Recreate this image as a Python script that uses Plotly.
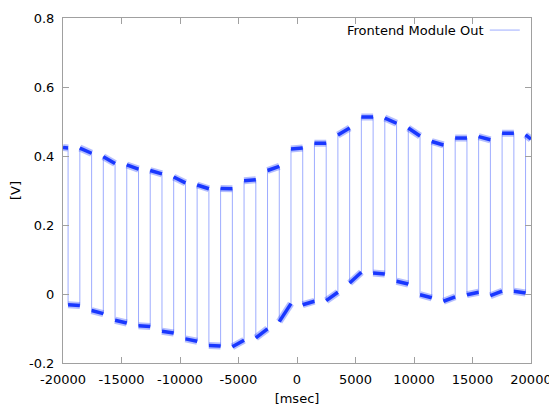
import plotly.graph_objects as go

# segment boundaries [msec] (alternating high / low plateaus)
seg_start = [-20000, -19565, -18560, -17555, -16555, -15550, -14550, -13545, -12545, -11540,
             -10540, -9535, -8535, -7530, -6530, -5525, -4525, -3520, -2520, -1515,
             -515, 490, 1490, 2495, 3495, 4500, 5500, 6505, 7505, 8510,
             9510, 10515, 11515, 12520, 13520, 14525, 15525, 16530, 17530, 18535, 19535]
x_end = 20000

# level at start / end of each segment [V]
lvl_start = [0.425, -0.031, 0.423, -0.048, 0.398, -0.076, 0.374, -0.092, 0.358, -0.108,
             0.339, -0.130, 0.316, -0.149, 0.306, -0.153, 0.328, -0.127, 0.358, -0.080,
             0.420, -0.031, 0.437, -0.019, 0.461, 0.032, 0.513, 0.061, 0.510, 0.037,
             0.481, -0.002, 0.442, -0.021, 0.452, -0.002, 0.456, -0.005, 0.466, 0.008, 0.461]
lvl_end = [0.423, -0.033, 0.408, -0.057, 0.378, -0.084, 0.362, -0.094, 0.348, -0.113,
           0.322, -0.137, 0.305, -0.151, 0.305, -0.134, 0.331, -0.101, 0.370, -0.028,
           0.423, -0.021, 0.437, 0.005, 0.481, 0.063, 0.513, 0.058, 0.495, 0.029,
           0.458, -0.011, 0.432, -0.008, 0.452, 0.005, 0.447, 0.008, 0.466, 0.003, 0.449]

x_ticks = [-20000, -15000, -10000, -5000, 0, 5000, 10000, 15000, 20000]
x_ticktext = ["-20000", "-15000", "-10000", "-5000", "0", "5000", "10000", "15000", "20000"]
y_ticks = [-0.2, 0, 0.2, 0.4, 0.6, 0.8]
y_ticktext = ["-0.2", "0", "0.2", "0.4", "0.6", "0.8"]

seg_end = seg_start[1:] + [x_end]

# continuous signal (with vertical transitions)
xs, ys = [], []
for s, e, a, b in zip(seg_start, seg_end, lvl_start, lvl_end):
    xs += [s, e]
    ys += [a, b]

# dense noisy plateaus
px, py = [], []
for s, e, a, b in zip(seg_start, seg_end, lvl_start, lvl_end):
    px += [s, e, None]
    py += [a, b, None]

FONT = "DejaVu Sans"
fig = go.Figure()
fig.add_trace(go.Scatter(x=xs, y=ys, mode="lines",
                         line=dict(color="rgba(40,70,255,0.45)", width=1),
                         name="Frontend Module Out", showlegend=False, hoverinfo="skip"))
# fuzzy halo of the noise band
fig.add_trace(go.Scatter(x=px, y=py, mode="lines",
                         line=dict(color="rgba(40,70,255,0.35)", width=7),
                         showlegend=False, hoverinfo="skip"))
# dense core of the noise band
fig.add_trace(go.Scatter(x=px, y=py, mode="lines",
                         line=dict(color="rgb(25,55,255)", width=3.5),
                         showlegend=False, hoverinfo="skip"))

axis_common = dict(showgrid=False, zeroline=False, showline=True, linecolor="#a0a0a0",
                   linewidth=1, mirror="allticks", ticks="inside", ticklen=6, automargin=False,
                   tickcolor="#a0a0a0", tickfont=dict(family=FONT, size=13, color="#000"))

fig.update_xaxes(range=[-20000, 20000], tickvals=x_ticks, ticktext=x_ticktext,
                 title=dict(text="[msec]", font=dict(family=FONT, size=13, color="#000"), standoff=8),
                 ticklabelstandoff=4, **axis_common)
fig.update_yaxes(range=[-0.2, 0.8], tickvals=y_ticks, ticktext=y_ticktext,
                 title=dict(text="[V]", font=dict(family=FONT, size=13, color="#000"), standoff=10),
                 ticklabelstandoff=5, **axis_common)

fig.add_annotation(x=0.9017, y=0.965, xref="paper", yref="paper", text="Frontend Module Out",
                   showarrow=False, xanchor="right", yanchor="middle",
                   font=dict(family=FONT, size=13, color="#000"))
fig.add_shape(type="line", xref="paper", yref="paper", x0=0.912, x1=0.976, y0=0.965, y1=0.965,
              line=dict(color="rgba(40,70,255,0.45)", width=1))

# page body has an 8px margin, so the figure is shrunk by that amount
fig.update_layout(width=549, height=401, margin=dict(l=55, r=26, t=10, b=46),
                  plot_bgcolor="white", paper_bgcolor="white", showlegend=False,
                  font=dict(family=FONT, size=13, color="#000"))

fig.write_html("out.html")
